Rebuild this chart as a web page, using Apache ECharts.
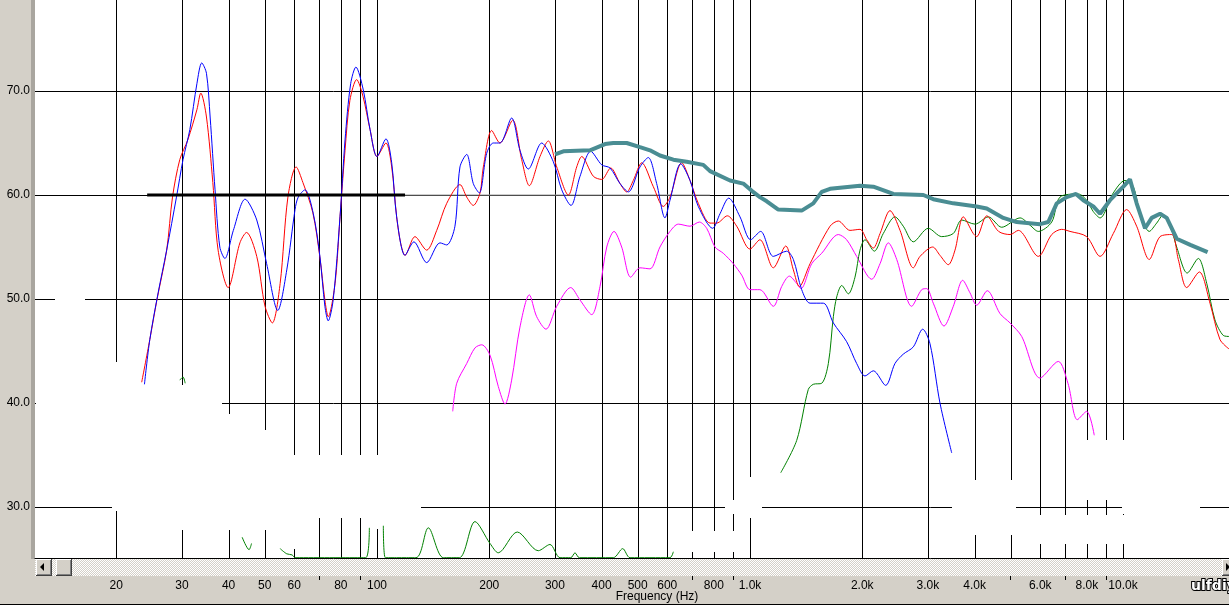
<!DOCTYPE html>
<html><head><meta charset="utf-8">
<script src="https://cdn.jsdelivr.net/npm/echarts@6/dist/echarts.min.js"></script>
<style>html,body{margin:0;padding:0;background:#fff;overflow:hidden}#c{width:1229px;height:605px}</style>
</head><body><div id="c"></div>
<script>
// ---- axis / grid definitions ----
const xGridFreqs = [20,30,40,50,60,70,80,90,100,200,300,400,500,600,700,800,900,1000,2000,3000,4000,5000,6000,7000,8000,9000,10000];
const yGridLevels = [30,40,50,60,70];
const xLabelFreqs = [20,30,40,50,60,80,100,200,300,400,500,600,800,1000,2000,3000,4000,6000,8000,10000];
const xUnlabeledTickFreqs = [70,90,700,900,5000,7000,9000];
const yLabelLevels = [30,40,50,60,70];

// ---- measured curves [frequency Hz, level dB] ----
const redCurve = [[23.4,42.0],[24.6,46.1],[25.7,49.9],[27.3,54.7],[28.3,59.8],[29.6,63.4],[31.1,65.3],[32.9,68.2],[33.7,69.8],[34.9,67.5],[36.3,61.2],[37.5,54.7],[39.9,51.1],[42.9,55.4],[44.7,56.4],[47.6,54.1],[50.1,49.3],[52.4,47.7],[55.0,51.5],[57.7,59.8],[60.7,62.7],[63.3,61.2],[67.3,58.3],[70.3,54.0],[72.5,49.9],[74.0,48.3],[77.2,51.5],[79.6,57.9],[82.1,64.3],[84.6,69.1],[88.2,71.1],[91.7,69.5],[95.8,66.3],[100,63.7],[105.7,65.0],[109.5,62.7],[112.9,57.9],[115.7,55.4],[118.9,54.2],[126.4,56.0],[135.9,54.7],[144.6,56.6],[153.8,59.2],[166.9,61.0],[174.0,59.8],[181.2,59.0],[188.9,60.2],[192.8,62.7],[203.0,66.2],[213.6,65.0],[231.1,67.2],[244.3,63.4],[256.1,60.9],[273.5,63.7],[287.9,65.2],[303.3,62.7],[325.9,60.0],[343.1,62.7],[353.9,63.7],[380.2,61.8],[400.4,61.5],[423.2,62.6],[448.3,61.1],[467.2,60.3],[486.6,61.4],[512.6,63.1],[550.6,60.8],[585.6,58.9],[610.3,59.8],[656.1,63.1],[690.6,61.4],[726.8,59.2],[781.3,57.3],[814.2,57.3],[869.3,58.0],[921.3,57.0],[1000,54.8],[1063,55.7],[1155,53.0],[1247,55.1],[1307,52.8],[1356,51.2],[1449,53.4],[1639,57.0],[1725,57.5],[1854,56.6],[1972,56.7],[2056,55.7],[2141,54.9],[2232,56.3],[2373,58.5],[2525,56.6],[2741,53.0],[2857,54.1],[3089,55.0],[3231,54.2],[3401,53.3],[3545,54.7],[3731,57.9],[3968,56.3],[4053,56.0],[4312,58.0],[4640,56.5],[4980,56.2],[5240,56.6],[5930,54.1],[6440,56.2],[6850,56.7],[7210,56.5],[7990,56.0],[8680,54.1],[9420,56.3],[10230,58.6],[10880,57.0],[11760,53.8],[12570,56.0],[13510,56.2],[14070,53.8],[14820,51.1],[16020,52.6],[17110,49.6],[18200,46.1],[19240,45.2]];

const blueCurve = [[23.8,41.8],[24.6,46.1],[25.9,50.6],[27.3,54.7],[29.0,59.8],[30.2,63.4],[31.5,66.3],[32.9,70.7],[33.9,72.7],[34.9,71.7],[35.7,67.5],[36.8,60.5],[37.9,55.0],[39.1,53.9],[41.2,56.6],[44.3,59.6],[47.6,57.6],[50.6,53.4],[54.2,48.9],[57.3,52.8],[60.3,58.6],[61.5,59.8],[64.1,60.5],[67.5,58.2],[70.3,54.1],[72.5,49.3],[74.0,47.9],[76.3,49.9],[79.6,57.9],[82.1,65.3],[85.0,70.7],[87.8,72.3],[91.9,70.1],[95.8,66.3],[100,63.7],[105.7,65.4],[109.5,63.1],[112.9,57.9],[118.9,54.2],[125.6,55.5],[135.9,53.5],[147.5,55.4],[153.8,55.2],[161.8,57.0],[166.9,62.7],[174.0,63.9],[181.2,61.1],[188.1,60.2],[196.8,64.0],[205.0,65.0],[213.6,65.0],[229.6,67.4],[241.7,64.3],[254.5,62.5],[276.4,65.0],[297.0,63.2],[312.8,60.5],[331.2,59.0],[350.2,61.8],[374.1,64.2],[400.4,62.9],[421.5,62.6],[448.3,61.1],[471.8,60.3],[507.1,62.7],[533.7,63.6],[562.1,61.1],[591.7,57.8],[610.3,59.5],[652.1,63.0],[690.6,61.4],[726.8,58.9],[794.3,56.8],[831.0,58.2],[877.0,59.7],[940.2,57.9],[1004,55.7],[1068,56.5],[1155,54.1],[1254,54.6],[1307,53.8],[1376,50.9],[1449,49.6],[1573,49.6],[1673,47.7],[1816,45.9],[1932,43.8],[2034,42.6],[2141,43.1],[2311,41.7],[2447,43.8],[2576,44.7],[2741,45.4],[2904,47.1],[3038,45.7],[3231,40.0],[3474,35.2]];

const magentaCurve = [[159.6,39.2],[163.6,41.9],[174.0,43.8],[183.1,45.3],[190.9,45.6],[200.9,44.6],[211.4,41.6],[220.4,39.9],[229.6,42.2],[241.7,47.3],[256.1,50.4],[268.0,48.3],[283.9,47.1],[303.3,49.3],[330.6,51.1],[350.2,49.9],[376.4,48.5],[396.2,51.2],[413.0,55.0],[432.0,56.5],[452.9,55.0],[478.8,52.1],[507.1,53.0],[539.4,52.9],[573.6,55.0],[610.3,56.5],[642.4,57.2],[690.6,57.0],[731.3,57.4],[765.4,56.8],[805.9,55.0],[847.9,54.4],[902.0,53.4],[950.0,52.3],[1000,50.9],[1063,50.9],[1155,49.3],[1216,51.2],[1275,52.2],[1334,51.5],[1370,51.0],[1464,53.4],[1557,54.4],[1725,56.2],[1816,55.7],[1932,54.1],[2120,51.9],[2232,53.4],[2349,55.4],[2474,53.8],[2713,49.3],[2886,50.9],[2977,51.0],[3100,49.6],[3312,47.4],[3508,49.3],[3717,51.8],[3888,50.6],[4053,49.4],[4328,50.8],[4680,48.6],[4980,47.7],[5351,46.4],[5993,42.4],[6707,44.0],[7119,41.9],[7543,38.4],[7990,39.2],[8375,36.9]];

const greenCurve = [[29.6,42.2],[30.2,42.5],[30.6,41.9],[36,null],[43.5,27.1],[45.4,25.9],[46.1,26.5],[50,null],[55.0,26.0],[57.3,25.5],[59.2,25.4],[60.3,25.13],[93.3,25.13],[95.4,28.0],[100,null],[104.0,28.2],[105.3,25.13],[127.2,25.13],[137.3,28.0],[150.6,25.13],[166.3,25.13],[183.1,28.6],[200.9,26.5],[211.4,25.6],[237.7,27.6],[270.6,25.8],[290.9,26.4],[309.5,25.13],[330.8,25.13],[339.5,25.6],[348.7,25.13],[430,25.13],[455.8,26.0],[476.9,25.13],[610.3,25.13],[623,25.7],[800,null],[1209,33.3],[1334,36.4],[1433,41.3],[1478,41.8],[1557,41.9],[1622,43.8],[1673,48.3],[1708,50.2],[1762,51.3],[1835,50.5],[1912,52.1],[1972,54.7],[2034,55.7],[2154,54.6],[2277,56.3],[2447,57.9],[2576,57.0],[2741,55.5],[3006,56.8],[3265,56.0],[3508,56.3],[3694,57.6],[4011,57.2],[4355,57.9],[4730,56.9],[5297,57.8],[5631,57.1],[5930,56.5],[6440,57.4],[6778,59.8],[7590,60.1],[7990,59.5],[8327,58.4],[8680,57.8],[9420,60.2],[10125,61.4],[10660,60.8],[11110,58.2],[11760,56.5],[12310,57.3],[12820,58.1],[13510,56.6],[13930,55.0],[14870,52.5],[15920,53.9],[16770,51.5],[17640,48.0],[18570,46.5],[19240,46.4]];

const tealCurve = [[300.1,63.9],[315.9,64.2],[372.4,64.3],[408.6,64.9],[430,65.0],[467.2,65.0],[507.1,64.6],[539.4,64.3],[573.6,63.8],[623,63.4],[676.6,63.2],[749.6,62.9],[781.3,62.3],[884,61.4],[959.4,61.1],[1011,60.4],[1063,59.8],[1109,59.4],[1191,58.6],[1376,58.5],[1478,59.2],[1557,60.3],[1639,60.6],[1972,60.9],[2141,60.8],[2423,60.1],[2915,60.0],[3100,59.6],[3508,59.2],[4053,58.9],[4312,58.7],[4777,57.8],[5188,57.4],[5993,57.2],[6305,57.4],[6643,59.2],[7065,59.8],[7482,60.1],[7826,59.5],[8327,58.9],[8680,58.2],[9228,59.5],[10020,60.8],[10440,61.5],[10880,59.2],[11460,56.8],[11940,57.8],[12570,58.2],[13100,57.8],[13930,55.8],[15150,55.2],[16860,54.5]];

const targetLine = [[24.2,60],[118.9,60]];
const targetLineFaint = [[118.9,60],[781,60]];

// erased (whited-out) zones of the original screenshot: [fLow, dbTop, fHigh, dbBottom]
const erasedZones = [
  [12.18,41.73,38.4,37.40],[18.09,43.94,21.77,41.73],[19.48,40.29,38.4,29.6],[38.4,38.94,41.6,37.4],[24.62,37.40,51.7,27.79],
  [39.1,35.0,105.1,28.94],[58.5,28.94,62.2,26.0],[97,28.94,103,27.9],[105.1,30.67,131.2,29.33],
  [13.7,50.4,16.5,49.6],[969.6,32.88,1031,28.94],[857,30.67,1077,29.33],[682.1,27.69,940,25.67],
  [3480,32.6,5165,27.31],[5631,29.23,10440,26.44],[7669,36.44,10440,30.67],[9938,30.67,16090,29.33]
];

// ---- chart ----
const FONT = '"Liberation Sans", Arial, sans-serif';
const chart = echarts.init(document.getElementById('c'), null, {renderer:'canvas'});

function fmtFreq(v){ return v >= 1000 ? (v/1000).toFixed(1) + 'k' : String(Math.round(v)); }

// hatched scrollbar pattern
const pat = document.createElement('canvas'); pat.width = 2; pat.height = 2;
const pctx = pat.getContext('2d');
pctx.fillStyle = '#d4d0c8'; pctx.fillRect(0,0,2,2);
pctx.fillStyle = '#ffffff'; pctx.fillRect(0,0,1,1); pctx.fillRect(1,1,1,1);

function button(x, y, w, h, z){
  return [
    {type:'rect', shape:{x:x,y:y,width:w,height:h}, style:{fill:'#404040'}, z:z, silent:true},
    {type:'rect', shape:{x:x,y:y,width:w-1,height:h-1}, style:{fill:'#ffffff'}, z:z, silent:true},
    {type:'rect', shape:{x:x+1,y:y+1,width:w-2,height:h-2}, style:{fill:'#808080'}, z:z, silent:true},
    {type:'rect', shape:{x:x+1,y:y+1,width:w-3,height:h-3}, style:{fill:'#d4d0c8'}, z:z, silent:true}
  ];
}

const lineSeries = (name, data, color, width, z, smooth) => ({
  name, type:'line', data, showSymbol:false, symbol:'none', smooth: smooth,
  connectNulls:false, z, silent:true,
  lineStyle:{color, width}, itemStyle:{color}
});

const crisp = v => Math.round(v) + 0.5;

chart.setOption({
  animation:false,
  backgroundColor:'#ffffff',
  grid:{left:35, right:0, top:0, bottom:47, containLabel:false},
  xAxis:{
    type:'log', logBase:10, min:12.11, max:19240, z:5,
    axisLine:{show:true, lineStyle:{color:'#000', width:1}},
    splitLine:{show:false}, minorTick:{show:false}, minorSplitLine:{show:false},
    axisTick:{show:true, customValues:xUnlabeledTickFreqs, length:22, lineStyle:{color:'#000'}},
    axisLabel:{show:true, customValues:xLabelFreqs, formatter:fmtFreq, margin:22,
      color:'#000', fontSize:12, fontFamily:FONT}
  },
  yAxis:{
    type:'value', min:25.1, max:78.75, z:5,
    axisLine:{show:false}, axisTick:{show:false}, splitLine:{show:false},
    axisLabel:{show:true, customValues:yLabelLevels, formatter:v=>v.toFixed(1), margin:5,
      color:'#000', fontSize:12, fontFamily:FONT}
  },
  graphic:[
    {type:'rect', shape:{x:0,y:0,width:35,height:605}, style:{fill:'#d4d0c8'}, z:-1, silent:true},
    {type:'rect', shape:{x:31,y:0,width:4,height:577}, style:{fill:'#a9a69f'}, z:-1, silent:true},
    {type:'rect', shape:{x:0,y:559,width:1229,height:46}, style:{fill:'#d4d0c8'}, z:-1, silent:true},
    {type:'rect', shape:{x:0,y:604,width:1229,height:1}, style:{fill:'#000'}, z:-1, silent:true},
    {type:'rect', shape:{x:35,y:559,width:1194,height:17}, style:{fill:{image:pat, repeat:'repeat'}}, z:50, silent:true},
    ...button(36,559,16,17,51),
    ...button(56,559,16,17,51),
    ...button(1222,559,16,17,51),
    {type:'polygon', shape:{points:[[40,567],[44,563],[44,571]]}, style:{fill:'#000'}, z:52, silent:true},
    {type:'polygon', shape:{points:[[1226,563],[1230,567],[1226,571]]}, style:{fill:'#000'}, z:52, silent:true},
    {type:'text', x:657, y:597, style:{text:'Frequency (Hz)', fill:'#000', font:'12px ' + FONT, textAlign:'center', textVerticalAlign:'middle'}, z:52, silent:true},
    {type:'text', x:1191, y:586, style:{text:'ulfdiy', fill:'#fff', stroke:'#000', lineWidth:2, font:'bold 14px "DejaVu Sans", Verdana, sans-serif', textAlign:'left', textVerticalAlign:'middle'}, z:52, silent:true}
  ],
  series:[
    {type:'custom', name:'vgrid', z:1, silent:true, clip:true,
      data: xGridFreqs.map(f => [f, 50]), encode:{x:0, y:1},
      renderItem:(params, api) => {
        const cs = params.coordSys;
        const x = crisp(api.coord([api.value(0), api.value(1)])[0]);
        return {type:'line', shape:{x1:x, y1:cs.y, x2:x, y2:cs.y + cs.height}, style:{stroke:'#000', lineWidth:1}};
      }},
    {type:'custom', name:'hgrid', z:1, silent:true, clip:true,
      data: yGridLevels.map(v => [100, v]), encode:{x:0, y:1},
      renderItem:(params, api) => {
        const cs = params.coordSys;
        const y = crisp(api.coord([api.value(0), api.value(1)])[1]);
        return {type:'line', shape:{x1:cs.x, y1:y, x2:cs.x + cs.width, y2:y}, style:{stroke:'#000', lineWidth:1}};
      }},
    {type:'custom', name:'erased', z:2, silent:true, clip:true,
      data: erasedZones, encode:{x:[0,2], y:[1,3]},
      renderItem:(params, api) => {
        const p1 = api.coord([api.value(0), api.value(1)]);
        const p2 = api.coord([api.value(2), api.value(3)]);
        return {type:'rect', shape:{x:Math.round(p1[0]), y:Math.round(p1[1]), width:Math.round(p2[0]-p1[0]), height:Math.round(p2[1]-p1[1])}, style:{fill:'#ffffff'}};
      }},
    lineSeries('targetFaint', targetLineFaint, '#9a9a9a', 1, 2, false),
    lineSeries('magenta', magentaCurve, '#ff00ff', 1, 3, 0.3),
    lineSeries('green', greenCurve, '#008000', 1, 3, 0.3),
    lineSeries('red', redCurve, '#ff0000', 1, 4, 0.3),
    lineSeries('blue', blueCurve, '#0000ff', 1, 4, 0.3),
    lineSeries('teal', tealCurve, '#4a8d93', 4, 5, false),
    lineSeries('target', targetLine, '#000000', 3, 6, false)
  ]
});
</script></body></html>
